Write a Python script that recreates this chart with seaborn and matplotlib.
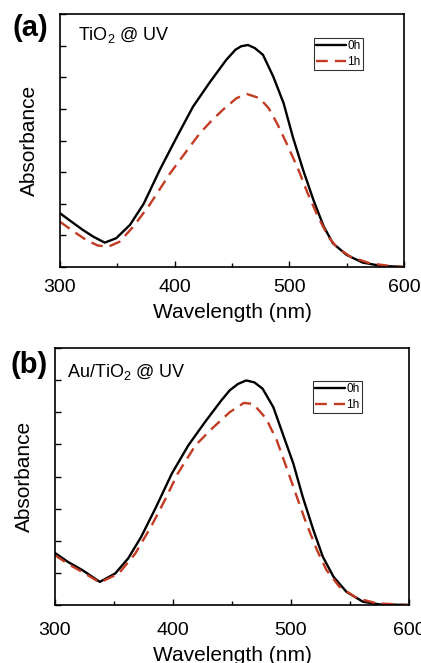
import matplotlib
matplotlib.use("Agg")
import matplotlib.pyplot as plt
import seaborn as sns
from matplotlib.ticker import MultipleLocator

sns.set_style("white")
plt.rcParams['font.family'] = ['Liberation Sans', 'DejaVu Sans']
plt.rcParams['mathtext.fontset'] = 'custom'
plt.rcParams['mathtext.rm'] = 'Liberation Sans'
plt.rcParams['text.color'] = 'black'
plt.rcParams['axes.labelcolor'] = 'black'
plt.rcParams['xtick.color'] = 'black'
plt.rcParams['ytick.color'] = 'black'

series_labels = ["0h", "1h"]
panel_labels = ["(a)", "(b)"]
panel_titles = ["TiO$_2$ @ UV", "Au/TiO$_2$ @ UV"]
x_ticks = [300, 400, 500, 600]

# Panel (a) TiO2
a_0h_wl = [300, 312, 320, 329, 339, 349, 361, 373, 387, 402, 416, 431, 445, 453, 458, 464,
           470, 477, 486, 495, 503, 512, 521, 530, 538, 550, 564, 579, 600]
a_0h_abs = [0.170, 0.138, 0.117, 0.096, 0.077, 0.091, 0.133, 0.200, 0.307, 0.412, 0.507,
            0.586, 0.655, 0.687, 0.698, 0.702, 0.692, 0.671, 0.602, 0.518, 0.412, 0.307,
            0.212, 0.128, 0.075, 0.038, 0.014, 0.004, 0.0]
a_1h_wl = [300, 312, 323, 333, 342, 352, 364, 378, 396, 409, 422, 432, 442, 454, 463, 474,
           482, 490, 499, 508, 516, 525, 534, 541, 553, 570, 588, 600]
a_1h_abs = [0.143, 0.112, 0.085, 0.068, 0.064, 0.080, 0.128, 0.196, 0.296, 0.360, 0.423,
            0.462, 0.497, 0.534, 0.547, 0.534, 0.502, 0.449, 0.380, 0.307, 0.233, 0.159,
            0.096, 0.064, 0.033, 0.012, 0.003, 0.0]

# Panel (b) Au/TiO2
b_0h_wl = [300, 311, 323, 338, 351, 362, 373, 385, 399, 413, 427, 441, 448, 455, 462, 469,
           476, 485, 493, 502, 510, 519, 527, 536, 547, 561, 575, 600]
b_0h_abs = [0.162, 0.134, 0.109, 0.072, 0.098, 0.145, 0.212, 0.300, 0.409, 0.497, 0.569,
            0.637, 0.668, 0.688, 0.699, 0.693, 0.673, 0.616, 0.533, 0.440, 0.336, 0.233,
            0.150, 0.088, 0.041, 0.010, 0.002, 0.0]
b_1h_wl = [300, 311, 323, 338, 354, 368, 382, 393, 404, 419, 433, 448, 460, 468, 479, 488,
           496, 505, 513, 522, 530, 541, 556, 573, 600]
b_1h_abs = [0.155, 0.128, 0.103, 0.070, 0.098, 0.160, 0.248, 0.326, 0.409, 0.497, 0.549,
            0.600, 0.629, 0.626, 0.580, 0.512, 0.430, 0.336, 0.254, 0.171, 0.109, 0.057,
            0.021, 0.005, 0.0]

panels = [
    ((a_0h_wl, a_0h_abs), (a_1h_wl, a_1h_abs)),
    ((b_0h_wl, b_0h_abs), (b_1h_wl, b_1h_abs)),
]

W, H = 421, 663
fig = plt.figure(figsize=(W / 100, H / 100), dpi=100)
boxes = [(60, 14, 404, 267), (55, 348, 409, 605)]
legend_pos = [(314, 38), (313, 381)]
title_pos = [(78, 35), (67, 372)]
label_pos = [(12, 28), (11, 365)]
tick_pads = [9, 12]
red = '#C23B22'

for i, (box, data) in enumerate(zip(boxes, panels)):
    l, t, r, b = box
    ax = fig.add_axes([l / W, 1 - b / H, (r - l) / W, (b - t) / H])
    (wl0, ab0), (wl1, ab1) = data
    sns.lineplot(x=wl0, y=ab0, ax=ax, color='black', lw=1.7, label=series_labels[0])
    sns.lineplot(x=wl1, y=ab1, ax=ax, color=red, lw=1.7, label=series_labels[1])
    ax.lines[1].set_dashes((5.0, 3.0))
    ax.set_xlim(300, 600)
    ax.set_ylim(0, 0.8)
    ax.set_xticks(x_ticks)
    ax.xaxis.set_minor_locator(MultipleLocator(50))
    ax.yaxis.set_major_locator(MultipleLocator(0.1))
    ax.set_yticklabels([])
    ax.tick_params(axis='both', which='both', direction='in', top=False, right=False)
    ax.tick_params(axis='x', which='major', length=4, width=1, labelsize=14,
                   pad=tick_pads[i], bottom=True)
    ax.tick_params(axis='x', which='minor', length=3, width=1, bottom=True)
    ax.tick_params(axis='y', which='major', length=4, width=1, left=True)
    for s in ax.spines.values():
        s.set_linewidth(1.2)
        s.set_color('black')
    ax.set_xlabel("Wavelength (nm)", fontsize=15, labelpad=5)
    ax.set_ylabel("Absorbance", fontsize=15, labelpad=12)
    tx, ty = title_pos[i]
    fig.text(tx / W, 1 - ty / H, panel_titles[i], fontsize=13, va='center', ha='left')
    px, py = label_pos[i]
    fig.text(px / W, 1 - py / H, panel_labels[i], fontsize=21, fontweight='bold',
             va='center', ha='left')
    lx, ly = legend_pos[i]
    leg = ax.legend(loc='upper left', bbox_to_anchor=((lx - l) / (r - l), 1 - (ly - t) / (b - t)),
                    fontsize=8.5, frameon=True, fancybox=False, handlelength=2.5, handletextpad=0.1,
                    borderpad=0.2, labelspacing=0.3, borderaxespad=0)
    leg.get_frame().set_edgecolor('black')
    leg.get_frame().set_linewidth(0.8)

fig.savefig("out.png", dpi=100)
